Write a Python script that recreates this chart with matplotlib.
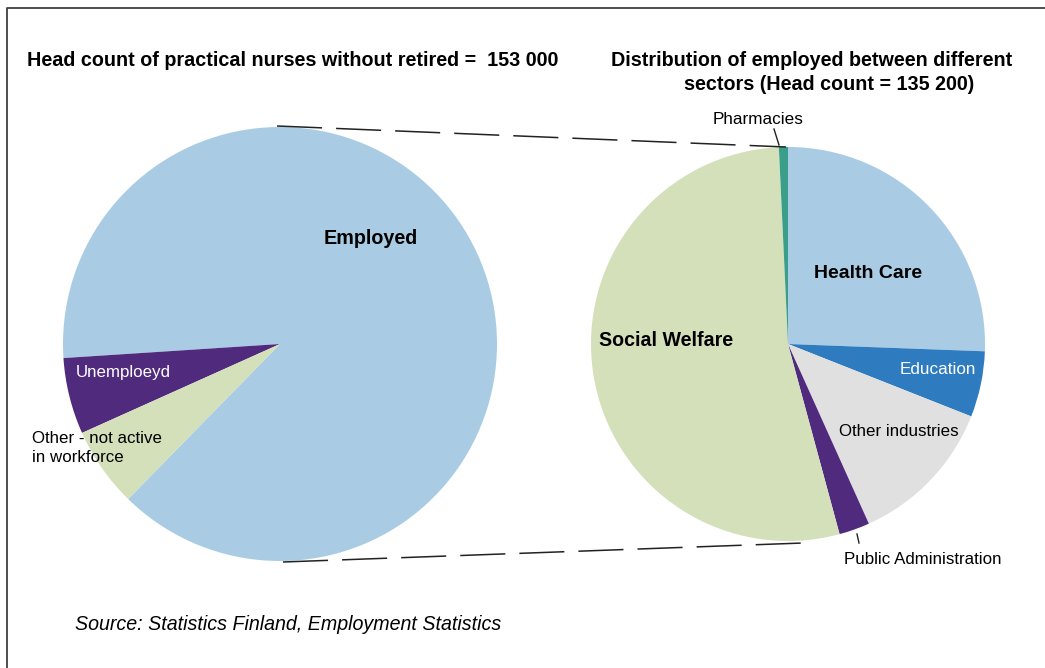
import matplotlib
matplotlib.use("Agg")
import matplotlib.pyplot as plt

# ---- data ----
left_labels = ["Employed", "Unemploeyd", "Other - not active\nin workforce"]
left_values = [135200, 8700, 9100]
left_colors = ["#A9CCE4", "#4F2A7D", "#D3E0BA"]

right_labels = ["Health Care", "Education", "Other industries",
                "Public Administration", "Social Welfare", "Pharmacies"]
right_values = [34600, 7300, 16600, 3400, 72300, 1000]
right_colors = ["#A9CCE4", "#2E7CBF", "#E0E0E0", "#4F2A7D", "#D3E0BA", "#3A9E8B"]

title_left = "Head count of practical nurses without retired =  153 000"
title_right = ["Distribution of employed between different",
               "sectors (Head count = 135 200)"]
source = "Source: Statistics Finland, Employment Statistics"

W, H = 1045, 668
plt.rcParams['font.family'] = ['Liberation Sans', 'DejaVu Sans']
fig = plt.figure(figsize=(W / 100, H / 100), dpi=100)
ax = fig.add_axes([0, 0, 1, 1])

def Y(py):
    return H - py

# left pie
ax.pie(left_values, colors=left_colors, startangle=225.6, counterclock=True,
       center=(280, Y(344)), radius=217, wedgeprops=dict(linewidth=0))
# right pie
ax.pie(right_values, colors=right_colors, startangle=90, counterclock=False,
       center=(788, Y(344)), radius=197, wedgeprops=dict(linewidth=0))
ax.set_xlim(0, W)
ax.set_ylim(0, H)
ax.set_aspect('equal')
ax.axis('off')

# frame
ax.plot([7, 7, W + 5], [Y(H + 5), Y(8), Y(8)], color="#404040", lw=1.3,
        solid_capstyle='butt', clip_on=False)

# connector dashed lines
dash = (0, (29.5, 9.2))
ax.plot([277, 786], [Y(126), Y(147)], color="#222222", lw=1.1, linestyle=dash)
ax.plot([283, 803], [Y(562), Y(543)], color="#222222", lw=1.1, linestyle=dash)

# titles
ax.text(27, Y(61), title_left, fontsize=14.2, fontweight='bold', ha='left', va='center')
ax.text(611, Y(61), title_right[0], fontsize=14.2, fontweight='bold', ha='left', va='center')
ax.text(684, Y(84), title_right[1], fontsize=14.2, fontweight='bold', ha='left', va='center')

# left labels
ax.text(371, Y(238), left_labels[0], fontsize=14.2, fontweight='bold', ha='center', va='center')
ax.text(123, Y(373), left_labels[1], fontsize=12.2, color='white', ha='center', va='center')
ax.text(32, Y(448), left_labels[2], fontsize=12.2, ha='left', va='center', linespacing=1.3)

# right labels
ax.text(868, Y(273), right_labels[0], fontsize=14, fontweight='bold', ha='center', va='center')
ax.text(938, Y(369), right_labels[1], fontsize=12.3, color='white', ha='center', va='center')
ax.text(899, Y(431), right_labels[2], fontsize=12.2, ha='center', va='center')
ax.text(923, Y(560), right_labels[3], fontsize=12.2, ha='center', va='center')
ax.text(666, Y(340), right_labels[4], fontsize=14.1, fontweight='bold', ha='center', va='center')
ax.text(758, Y(120), right_labels[5], fontsize=12.3, ha='center', va='center')

# leader lines
ax.plot([774, 779], [Y(129), Y(145)], color="#222222", lw=1)
ax.plot([857, 859], [Y(534), Y(543)], color="#222222", lw=1)

# source
ax.text(75, Y(624), source, fontsize=14.1, style='italic', ha='left', va='center')

fig.savefig("out.png", dpi=100)
